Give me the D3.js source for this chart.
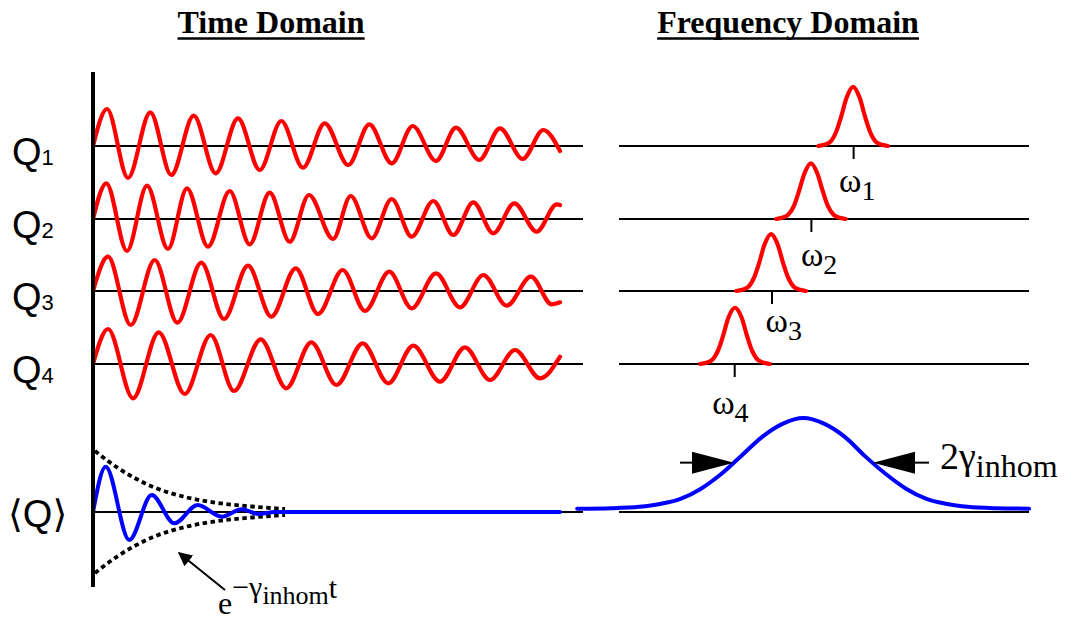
<!DOCTYPE html>
<html><head><meta charset="utf-8">
<script src="https://cdn.jsdelivr.net/npm/d3@7"></script>
<style>body{margin:0;background:#fff}svg{display:block}</style>
</head><body>
<svg id="c" width="1077" height="622"></svg>
<script>
// ================= DATA =================
const titles = ["Time Domain", "Frequency Domain"];
const rowNames = ["Q", "Q", "Q", "Q"];
const rowSubs = ["1", "2", "3", "4"];
const freqSubs = ["1", "2", "3", "4"];

// time domain traces: time (a.u.) and displacement (a.u.), extrema
const q1T = [0, 1.4, 3.5, 5.73, 7.83, 10.07, 12.27, 14.5, 16.67, 18.83, 21.0, 23.17, 25.53, 27.63, 29.87, 31.97, 34.3, 36.3, 38.63, 40.7, 42.97, 45.03, 46.7];
const q1V = [0, 3.7, -3.2, 3.37, -2.9, 3.03, -2.73, 2.77, -2.4, 2.5, -2.17, 2.27, -1.9, 2.17, -1.73, 2.0, -1.5, 1.83, -1.4, 1.77, -1.3, 1.6, -0.5];
const q2T = [0, 1.33, 3.4, 5.4, 7.5, 9.4, 11.5, 13.67, 15.67, 17.67, 19.67, 21.6, 24.0, 25.77, 27.87, 29.87, 31.87, 34.03, 36.03, 38.03, 40.03, 42.13, 44.37, 46.37, 46.7];
const q2V = [0, 3.57, -3.2, 3.33, -3.0, 3.07, -2.77, 2.8, -2.53, 2.63, -2.27, 2.4, -2.0, 2.3, -1.93, 2.0, -1.77, 1.8, -1.6, 1.67, -1.43, 1.57, -1.27, 1.47, 1.4];
const q3T = [0, 1.5, 3.77, 6.17, 8.43, 10.83, 13.1, 15.5, 17.83, 20.27, 22.5, 24.97, 27.2, 29.63, 31.87, 34.3, 36.7, 39.03, 41.37, 43.8, 45.87, 46.7];
const q3V = [0, 3.43, -3.4, 3.1, -3.17, 2.83, -2.8, 2.53, -2.57, 2.27, -2.3, 2.1, -2.0, 1.93, -1.73, 1.77, -1.63, 1.6, -1.47, 1.43, -1.33, -1.13];
const q4T = [0, 1.5, 4.0, 6.57, 9.17, 11.77, 14.1, 16.77, 19.33, 21.83, 24.35, 26.97, 29.53, 32.03, 34.7, 37.2, 39.7, 42.2, 44.7, 46.7];
const q4V = [0, 3.5, -3.43, 3.17, -3.0, 2.9, -2.7, 2.47, -2.43, 2.17, -2.1, 2.07, -1.93, 1.83, -1.77, 1.67, -1.6, 1.4, -1.43, 0.73];
// ensemble average <Q>
const avgT = [0, 1.27, 3.63, 5.87, 8.13, 10.47, 12.87, 14.87, 16.53, 18.2, 46.7];
const avgV = [0, 4.53, -2.8, 1.7, -1.13, 0.7, -0.47, 0.27, -0.2, 0, 0];
// decay envelope exp(-gamma t)
const envT = [0.2, 2.5, 5.9, 9.2, 12.5, 15.9, 19.2];
const envA = [6.1, 4.4, 2.55, 1.5, 0.9, 0.55, 0.3];

// frequency domain spectra: frequency (a.u.) and intensity (a.u.)
const w1F = [48.6, 50.0, 51.5, 53.0, 54.2, 55.5, 57.1, 58.7, 60.0, 61.2, 62.7, 64.2, 65.6];
const w1I = [0, 0.02, 0.07, 0.25, 0.51, 0.83, 1.02, 0.83, 0.51, 0.25, 0.07, 0.02, 0];
const w2F = [38.3, 39.7, 41.2, 42.7, 43.9, 45.2, 46.8, 48.4, 49.7, 50.9, 52.4, 53.9, 55.3];
const w2I = [0, 0.02, 0.07, 0.23, 0.48, 0.78, 0.96, 0.78, 0.48, 0.23, 0.07, 0.02, 0];
const w3F = [28.6, 30.0, 31.5, 33.0, 34.2, 35.5, 37.1, 38.7, 40.0, 41.2, 42.7, 44.2, 45.6];
const w3I = [0, 0.02, 0.07, 0.24, 0.49, 0.8, 0.98, 0.8, 0.49, 0.24, 0.07, 0.02, 0];
const w4F = [19.8, 21.2, 22.7, 24.2, 25.4, 26.7, 28.3, 29.9, 31.2, 32.4, 33.9, 35.4, 36.8];
const w4I = [0, 0.02, 0.07, 0.24, 0.49, 0.8, 0.97, 0.8, 0.49, 0.24, 0.07, 0.02, 0];
const centers = [57.1, 46.8, 37.2, 28.1];
// inhomogeneous spectrum
const bF = [-10.2, -2, 5, 10, 15, 20, 25, 30, 35, 40, 44.9, 50, 55, 60, 65, 70, 75, 80, 85, 92, 100];
const bI = [0.025, 0.03, 0.045, 0.075, 0.13, 0.24, 0.4, 0.6, 0.8, 0.94, 1.0, 0.94, 0.8, 0.59, 0.4, 0.24, 0.13, 0.075, 0.045, 0.03, 0.025];
const halfMax = [28.05, 61.95];
const halfMaxLevel = 0.52;

// ================= LAYOUT =================
const rowBase = [146, 219, 291, 364];
const avgBase = 512;
const freqBase = 511;
const RED = "#ff0000", BLUE = "#0000ff";
const serif = "'Liberation Serif','Times New Roman',serif";
const sans = "'Liberation Sans',Arial,'DejaVu Sans',sans-serif";

const svg = d3.select("#c");
const x = d3.scaleLinear().domain([0, 49]).range([93, 583]);
const f = d3.scaleLinear().domain([0, 100]).range([619, 1029]);
const rowY = b => d3.scaleLinear().domain([-4, 4]).range([b + 40, b - 40]);
const peakY = b => d3.scaleLinear().domain([0, 1]).range([b, b - 58]);
const bY = d3.scaleLinear().domain([0, 1]).range([freqBase, freqBase - 93]);

const zip = (a, b) => a.map((v, i) => [v, b[i]]);

// titles
[[titles[0], 271], [titles[1], 788]].forEach(([t, cx]) => {
  const tx = svg.append("text").attr("x", cx).attr("y", 33).attr("text-anchor", "middle")
    .attr("font-family", serif).attr("font-weight", "bold").attr("font-size", 32).text(t);
  const bb = tx.node().getBBox();
  svg.append("line").attr("x1", bb.x).attr("x2", bb.x + bb.width).attr("y1", 38.5).attr("y2", 38.5)
    .attr("stroke", "#000").attr("stroke-width", 2.5);
});

// baselines
rowBase.forEach(b => {
  svg.append("line").attr("x1", x(0)).attr("x2", x(49)).attr("y1", b).attr("y2", b).attr("stroke", "#000").attr("stroke-width", 2);
  svg.append("line").attr("x1", f(0)).attr("x2", f(100)).attr("y1", b).attr("y2", b).attr("stroke", "#000").attr("stroke-width", 2);
});
svg.append("line").attr("x1", x(0)).attr("x2", x(49)).attr("y1", avgBase).attr("y2", avgBase).attr("stroke", "#000").attr("stroke-width", 2);
svg.append("line").attr("x1", f(0)).attr("x2", f(100)).attr("y1", freqBase + 1).attr("y2", freqBase + 1).attr("stroke", "#000").attr("stroke-width", 2);

// time traces
const traces = [zip(q1T, q1V), zip(q2T, q2V), zip(q3T, q3V), zip(q4T, q4V)];
traces.forEach((d, i) => {
  const y = rowY(rowBase[i]);
  svg.append("path").attr("d", d3.line().x(p => x(p[0])).y(p => y(p[1])).curve(d3.curveMonotoneX)(d))
    .attr("fill", "none").attr("stroke", RED).attr("stroke-width", 4.2).attr("stroke-linejoin", "round").attr("stroke-linecap", "round");
});

// envelope
const yA = rowY(avgBase);
[1, -1].forEach(s => {
  svg.append("path").attr("d", d3.line().x(p => x(p[0])).y(p => yA(s * p[1])).curve(d3.curveMonotoneX)(zip(envT, envA)))
    .attr("fill", "none").attr("stroke", "#000").attr("stroke-width", 3.8).attr("stroke-dasharray", "4.5,3.5");
});
svg.append("path").attr("d", d3.line().x(p => x(p[0])).y(p => yA(p[1])).curve(d3.curveMonotoneX)(zip(avgT, avgV)))
  .attr("fill", "none").attr("stroke", BLUE).attr("stroke-width", 4).attr("stroke-linejoin", "round").attr("stroke-linecap", "round");

// vertical axis
svg.append("line").attr("x1", x(0)).attr("x2", x(0)).attr("y1", 72).attr("y2", 587).attr("stroke", "#000").attr("stroke-width", 4);

// spectra
const peaks = [zip(w1F, w1I), zip(w2F, w2I), zip(w3F, w3I), zip(w4F, w4I)];
peaks.forEach((d, i) => {
  const y = peakY(rowBase[i]);
  svg.append("path").attr("d", d3.line().x(p => f(p[0])).y(p => y(p[1])).curve(d3.curveMonotoneX)(d))
    .attr("fill", "none").attr("stroke", RED).attr("stroke-width", 4.2).attr("stroke-linecap", "round");
  const ax = svg.append("g").attr("transform", `translate(0,${rowBase[i] + 1})`)
    .call(d3.axisBottom(f).tickValues([centers[i]]).tickSize(12).tickFormat(""));
  ax.select(".domain").remove();
  ax.selectAll("line").attr("stroke", "#000").attr("stroke-width", 2);
});
svg.append("path").attr("d", d3.line().x(p => f(p[0])).y(p => bY(p[1])).curve(d3.curveMonotoneX)(zip(bF, bI)))
  .attr("fill", "none").attr("stroke", BLUE).attr("stroke-width", 4).attr("stroke-linecap", "round");

// omega labels
const labOff = [[-14, 46], [-10, 47], [-6, 41], [-22, 50]];
centers.forEach((c, i) => {
  const t = svg.append("text").attr("x", f(c) + labOff[i][0]).attr("y", rowBase[i] + labOff[i][1])
    .attr("font-family", serif).attr("font-size", 34);
  t.append("tspan").text("ω");
  t.append("tspan").attr("font-size", 28).attr("dy", 8).text(freqSubs[i]);
});

// half-width arrows
const ay = bY(halfMaxLevel);
const lx = f(halfMax[0]), rx = f(halfMax[1]);
svg.append("path").attr("d", `M${lx},${ay}L${lx - 42},${ay - 11}L${lx - 42},${ay + 11}Z`).attr("fill", "#000");
svg.append("line").attr("x1", lx - 54).attr("x2", lx - 40).attr("y1", ay).attr("y2", ay).attr("stroke", "#000").attr("stroke-width", 2);
svg.append("path").attr("d", `M${rx},${ay}L${rx + 42},${ay - 11}L${rx + 42},${ay + 11}Z`).attr("fill", "#000");
svg.append("line").attr("x1", rx + 40).attr("x2", rx + 56).attr("y1", ay).attr("y2", ay).attr("stroke", "#000").attr("stroke-width", 2);
const gl = svg.append("text").attr("x", 940).attr("y", 469).attr("font-family", serif).attr("font-size", 38);
gl.append("tspan").text("2γ");
gl.append("tspan").attr("font-size", 32).attr("dy", 8).text("inhom");

// Q labels
rowBase.forEach((b, i) => {
  const t = svg.append("text").attr("x", 12).attr("y", b + 19).attr("font-family", sans).attr("font-size", 38);
  t.append("tspan").text(rowNames[i]);
  t.append("tspan").attr("font-size", 22).text(rowSubs[i]);
});
svg.append("text").attr("x", 8).attr("y", avgBase + 15).attr("font-family", sans).attr("font-size", 38).text("⟨Q⟩");

// envelope annotation arrow
svg.append("defs").append("marker").attr("id", "ah").attr("viewBox", "0 0 10 10").attr("refX", 9).attr("refY", 5)
  .attr("markerWidth", 7).attr("markerHeight", 7).attr("markerUnits", "strokeWidth").attr("orient", "auto")
  .append("path").attr("d", "M0,0L10,5L0,10Z").attr("fill", "#000");
svg.append("line").attr("x1", x(13.2)).attr("y1", yA(-7.8)).attr("x2", x(8.6)).attr("y2", yA(-4.1))
  .attr("stroke", "#000").attr("stroke-width", 2).attr("marker-end", "url(#ah)");
const el = svg.append("text").attr("x", 218).attr("y", 614).attr("font-family", serif).attr("font-size", 32);
el.append("tspan").text("e");
el.append("tspan").attr("font-size", 30).attr("dy", -17).text("−γ");
el.append("tspan").attr("font-size", 26).attr("dy", 7).text("inhom");
el.append("tspan").attr("font-size", 30).attr("dy", -6).text("t");
</script>
</body></html>
